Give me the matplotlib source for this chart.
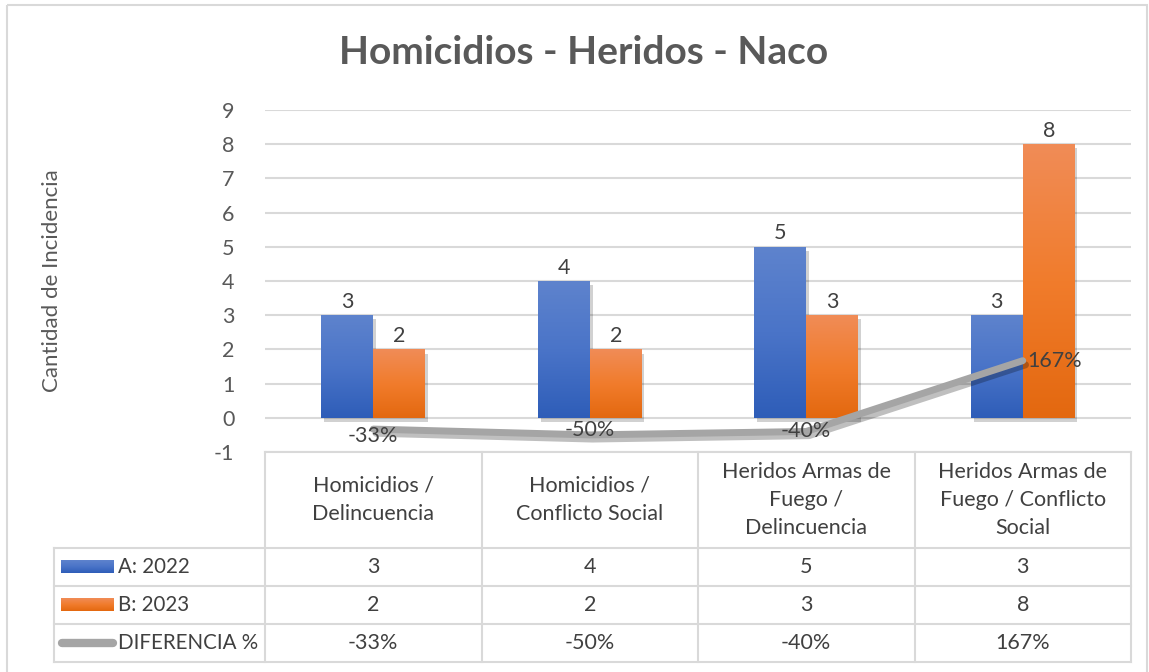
import numpy as np
import matplotlib
matplotlib.use("Agg")
from matplotlib import pyplot as plt
from matplotlib import patheffects as pe
from matplotlib.colors import LinearSegmentedColormap
from matplotlib.transforms import blended_transform_factory

plt.rcParams["font.family"] = ["Lato", "DejaVu Sans"]
plt.rcParams["axes.unicode_minus"] = False

## Data
categories = ["Homicidios /\nDelincuencia",
              "Homicidios /\nConflicto Social",
              "Heridos Armas de\nFuego /\nDelincuencia",
              "Heridos Armas de\nFuego / Conflicto\nSocial"]
a_2022 = [3, 4, 5, 3]
b_2023 = [2, 2, 3, 8]
diferencia = [-0.33, -0.50, -0.40, 1.67]
diferencia_labels = ["-33%", "-50%", "-40%", "167%"]
series_names = ["A: 2022", "B: 2023", "DIFERENCIA %"]
y_ticks = list(range(-1, 10))

# label placement relative to each line point (layout only)
label_dy = [-0.2, 0.15, 0.0, 0.0]
label_dx = [0.0, 0.0, 0.0, 0.02]

TEXT = "#404040"
GREY = "#595959"
GRID = "#d9d9d9"
LINE = "#a5a5a5"
FS = 15.5
blue_cmap = LinearSegmentedColormap.from_list("b", ["#2e5db8", "#4a74c8", "#5e83cd"])
orange_cmap = LinearSegmentedColormap.from_list("o", ["#e3680f", "#f17c2c", "#f08c57"])

W, H = 1149, 672
fig = plt.figure(figsize=(W / 100, H / 100), dpi=100)

# main plot area (pixel layout: x 265..1131, y 110..452)
ax = fig.add_axes([265 / W, 1 - 452 / H, 866 / W, 342 / H])
x = np.arange(len(categories))
bw = 0.24

shadow = [pe.SimplePatchShadow(offset=(2, -3), shadow_rgbFace="#000000", alpha=0.18),
          pe.Normal()]
grad = np.linspace(0, 1, 256).reshape(-1, 1)
for vals, off, cmap in [(a_2022, -bw / 2, blue_cmap), (b_2023, bw / 2, orange_cmap)]:
    bars = ax.bar(x + off, vals, width=bw, color="none", edgecolor="none", zorder=2)
    for b, v in zip(bars, vals):
        b.set_path_effects(shadow)
        b.set_facecolor(cmap(0.5))
        im = ax.imshow(grad, extent=[b.get_x(), b.get_x() + b.get_width(), 0, v],
                       origin="lower", aspect="auto", cmap=cmap, zorder=3)
        im.set_clip_path(b)
        ax.text(b.get_x() + b.get_width() / 2, v + 0.1, str(v), ha="center", va="bottom",
                fontsize=FS, color=TEXT, zorder=5)

ax.plot(x, diferencia, color=LINE, lw=5, solid_capstyle="round", zorder=4,
        path_effects=[pe.SimpleLineShadow(offset=(2, -3), alpha=0.25, shadow_color="#000000"),
                      pe.Normal()])
for i, (v, lab) in enumerate(zip(diferencia, diferencia_labels)):
    ha = "left" if i == len(diferencia) - 1 else "center"
    ax.text(i + label_dx[i], v + label_dy[i], lab, ha=ha, va="center", fontsize=FS,
            color=TEXT, zorder=5, clip_on=False)

ax.set_xlim(-0.5, 3.5)
ax.set_ylim(-1, 9)
ax.set_yticks(y_ticks)
ax.set_xticks([])
ax.tick_params(axis="y", length=0, labelsize=FS, labelcolor=GREY, pad=22)
for s in ax.spines.values():
    s.set_visible(False)
ax.grid(axis="y", color=GRID, lw=1.5, zorder=0)
ax.set_axisbelow(True)
ax.set_ylabel("Cantidad de Incidencia", fontsize=16, color=GREY)
ax.yaxis.set_label_coords(-203 / 866, 0.5)

# overlay in pixel coordinates for the data table and frame
ov = fig.add_axes([0, 0, 1, 1], zorder=-1)
ov.set_xlim(0, W)
ov.set_ylim(H, 0)
ov.axis("off")
ov.add_patch(plt.Rectangle((7, 5), 1140, 700, fill=False, ec=GRID, lw=1.5))
ov.text(584, 52, "Homicidios - Heridos - Naco", ha="center", va="center",
        fontsize=28, fontweight="bold", color=GREY)

tab = fig.add_axes([0, 0, 1, 1], zorder=3)
tab.set_xlim(0, W)
tab.set_ylim(H, 0)
tab.axis("off")
tr = blended_transform_factory(ax.transData, tab.transData)

rows_y = [452, 548, 586, 624, 662]
left = -1.475
# horizontal lines
tab.plot([-0.5, 3.5], [rows_y[0]] * 2, color=GRID, lw=1.5, transform=tr)
for yy in rows_y[1:]:
    tab.plot([left, 3.5], [yy, yy], color=GRID, lw=1.5, transform=tr)
# vertical lines
tab.plot([left, left], [rows_y[1], rows_y[-1]], color=GRID, lw=1.5, transform=tr)
for xx in np.arange(-0.5, 3.6, 1.0):
    tab.plot([xx, xx], [rows_y[0], rows_y[-1]], color=GRID, lw=1.5, transform=tr)

for i, cat in enumerate(categories):
    tab.text(i, 500, cat, ha="center", va="center", fontsize=FS, color=TEXT,
             linespacing=1.5, transform=tr)

row_vals = [[str(v) for v in a_2022], [str(v) for v in b_2023], diferencia_labels]
for r, vals in enumerate(row_vals):
    yc = (rows_y[r + 1] + rows_y[r + 2]) / 2
    for i, v in enumerate(vals):
        tab.text(i, yc, v, ha="center", va="center", fontsize=FS, color=TEXT, transform=tr)
    tab.text(118, yc, series_names[r], ha="left", va="center", fontsize=14.8, color=TEXT)

# legend keys
for r, cmap in enumerate([blue_cmap, orange_cmap]):
    yc = (rows_y[r + 1] + rows_y[r + 2]) / 2
    tab.imshow(grad, extent=[61, 114, yc + 6.5, yc - 6.5], origin="upper",
               aspect="auto", cmap=cmap.reversed())
yc = (rows_y[3] + rows_y[4]) / 2
tab.plot([62, 113], [yc, yc], color=LINE, lw=6, solid_capstyle="round")
tab.set_xlim(0, W)
tab.set_ylim(H, 0)

fig.savefig("out.png", dpi=100)
